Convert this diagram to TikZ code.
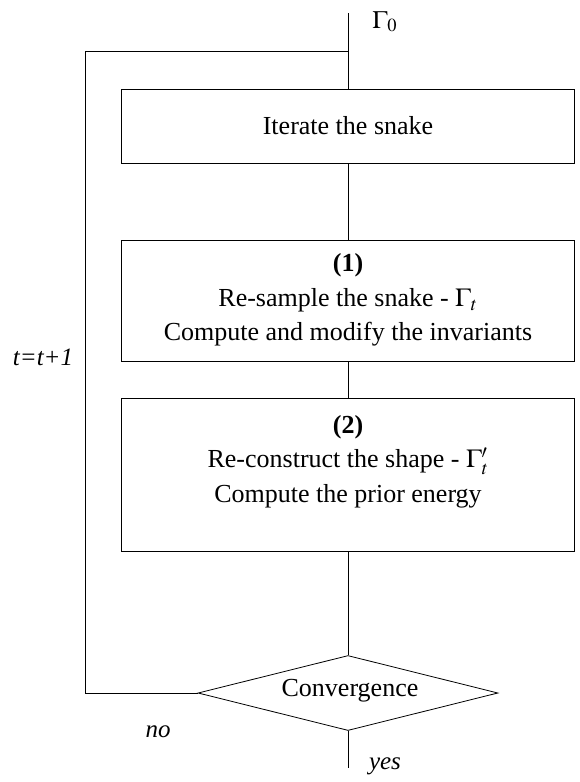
\documentclass[tikz,border=0pt]{standalone}
\usepackage{mathptmx}
\usepackage[no-math]{fontspec}
\setmainfont{Liberation Serif}
\usetikzlibrary{shapes.geometric}
\begin{document}
\begin{tikzpicture}[x=1pt,y=-1pt,line width=0.8pt,
  box/.style={draw,rectangle,minimum width=453pt,inner sep=0pt},
  txt/.style={align=center,font=\fontsize{26}{34.5}\selectfont,inner sep=0pt},
  lbl/.style={font=\fontsize{25}{30}\selectfont\itshape,inner sep=0pt}]
\useasboundingbox (0,0) rectangle (579,782);
\coordinate (top) at (348,13);
\coordinate (join) at (348,51);
\coordinate (lt) at (85,51);
\coordinate (bot) at (348,768);
\node[box,minimum height=74pt] (b1) at (348,126) {};
\node[txt] at (348,126) {Iterate the snake};
\node[box,minimum height=121pt] (b2) at (348,300.5) {};
\node[txt] at (348,300) {\textbf{(1)}\\Re-sample the snake - $\Gamma_t$\\Compute and modify the invariants};
\node[box,minimum height=153pt] (b3) at (348,474.5) {};
\node[txt] at (348,461.5) {\textbf{(2)}\\Re-construct the shape - $\Gamma'_t$\\Compute the prior energy};
\node[draw,diamond,minimum width=300pt,minimum height=75pt,inner sep=0pt] (d) at (348,693) {};
\node[txt] at (350,691) {Convergence};
\node[inner sep=0pt,anchor=base west,font=\fontsize{25}{30}\selectfont] (g0) at (372,28) {$\Gamma_0$};
\node[lbl] (tt) at (43,357) {t=t+1};
\node[lbl] (no) at (158,732) {no};
\node[lbl] (yes) at (385,766) {yes};
\draw (top) -- (b1.north);
\draw (b1.south) -- (b2.north);
\draw (b2.south) -- (b3.north);
\draw (b3.south) -- (d.north);
\draw (d.south) -- (bot);
\draw (d.west) -| (lt) -- (join);
\end{tikzpicture}
\end{document}
